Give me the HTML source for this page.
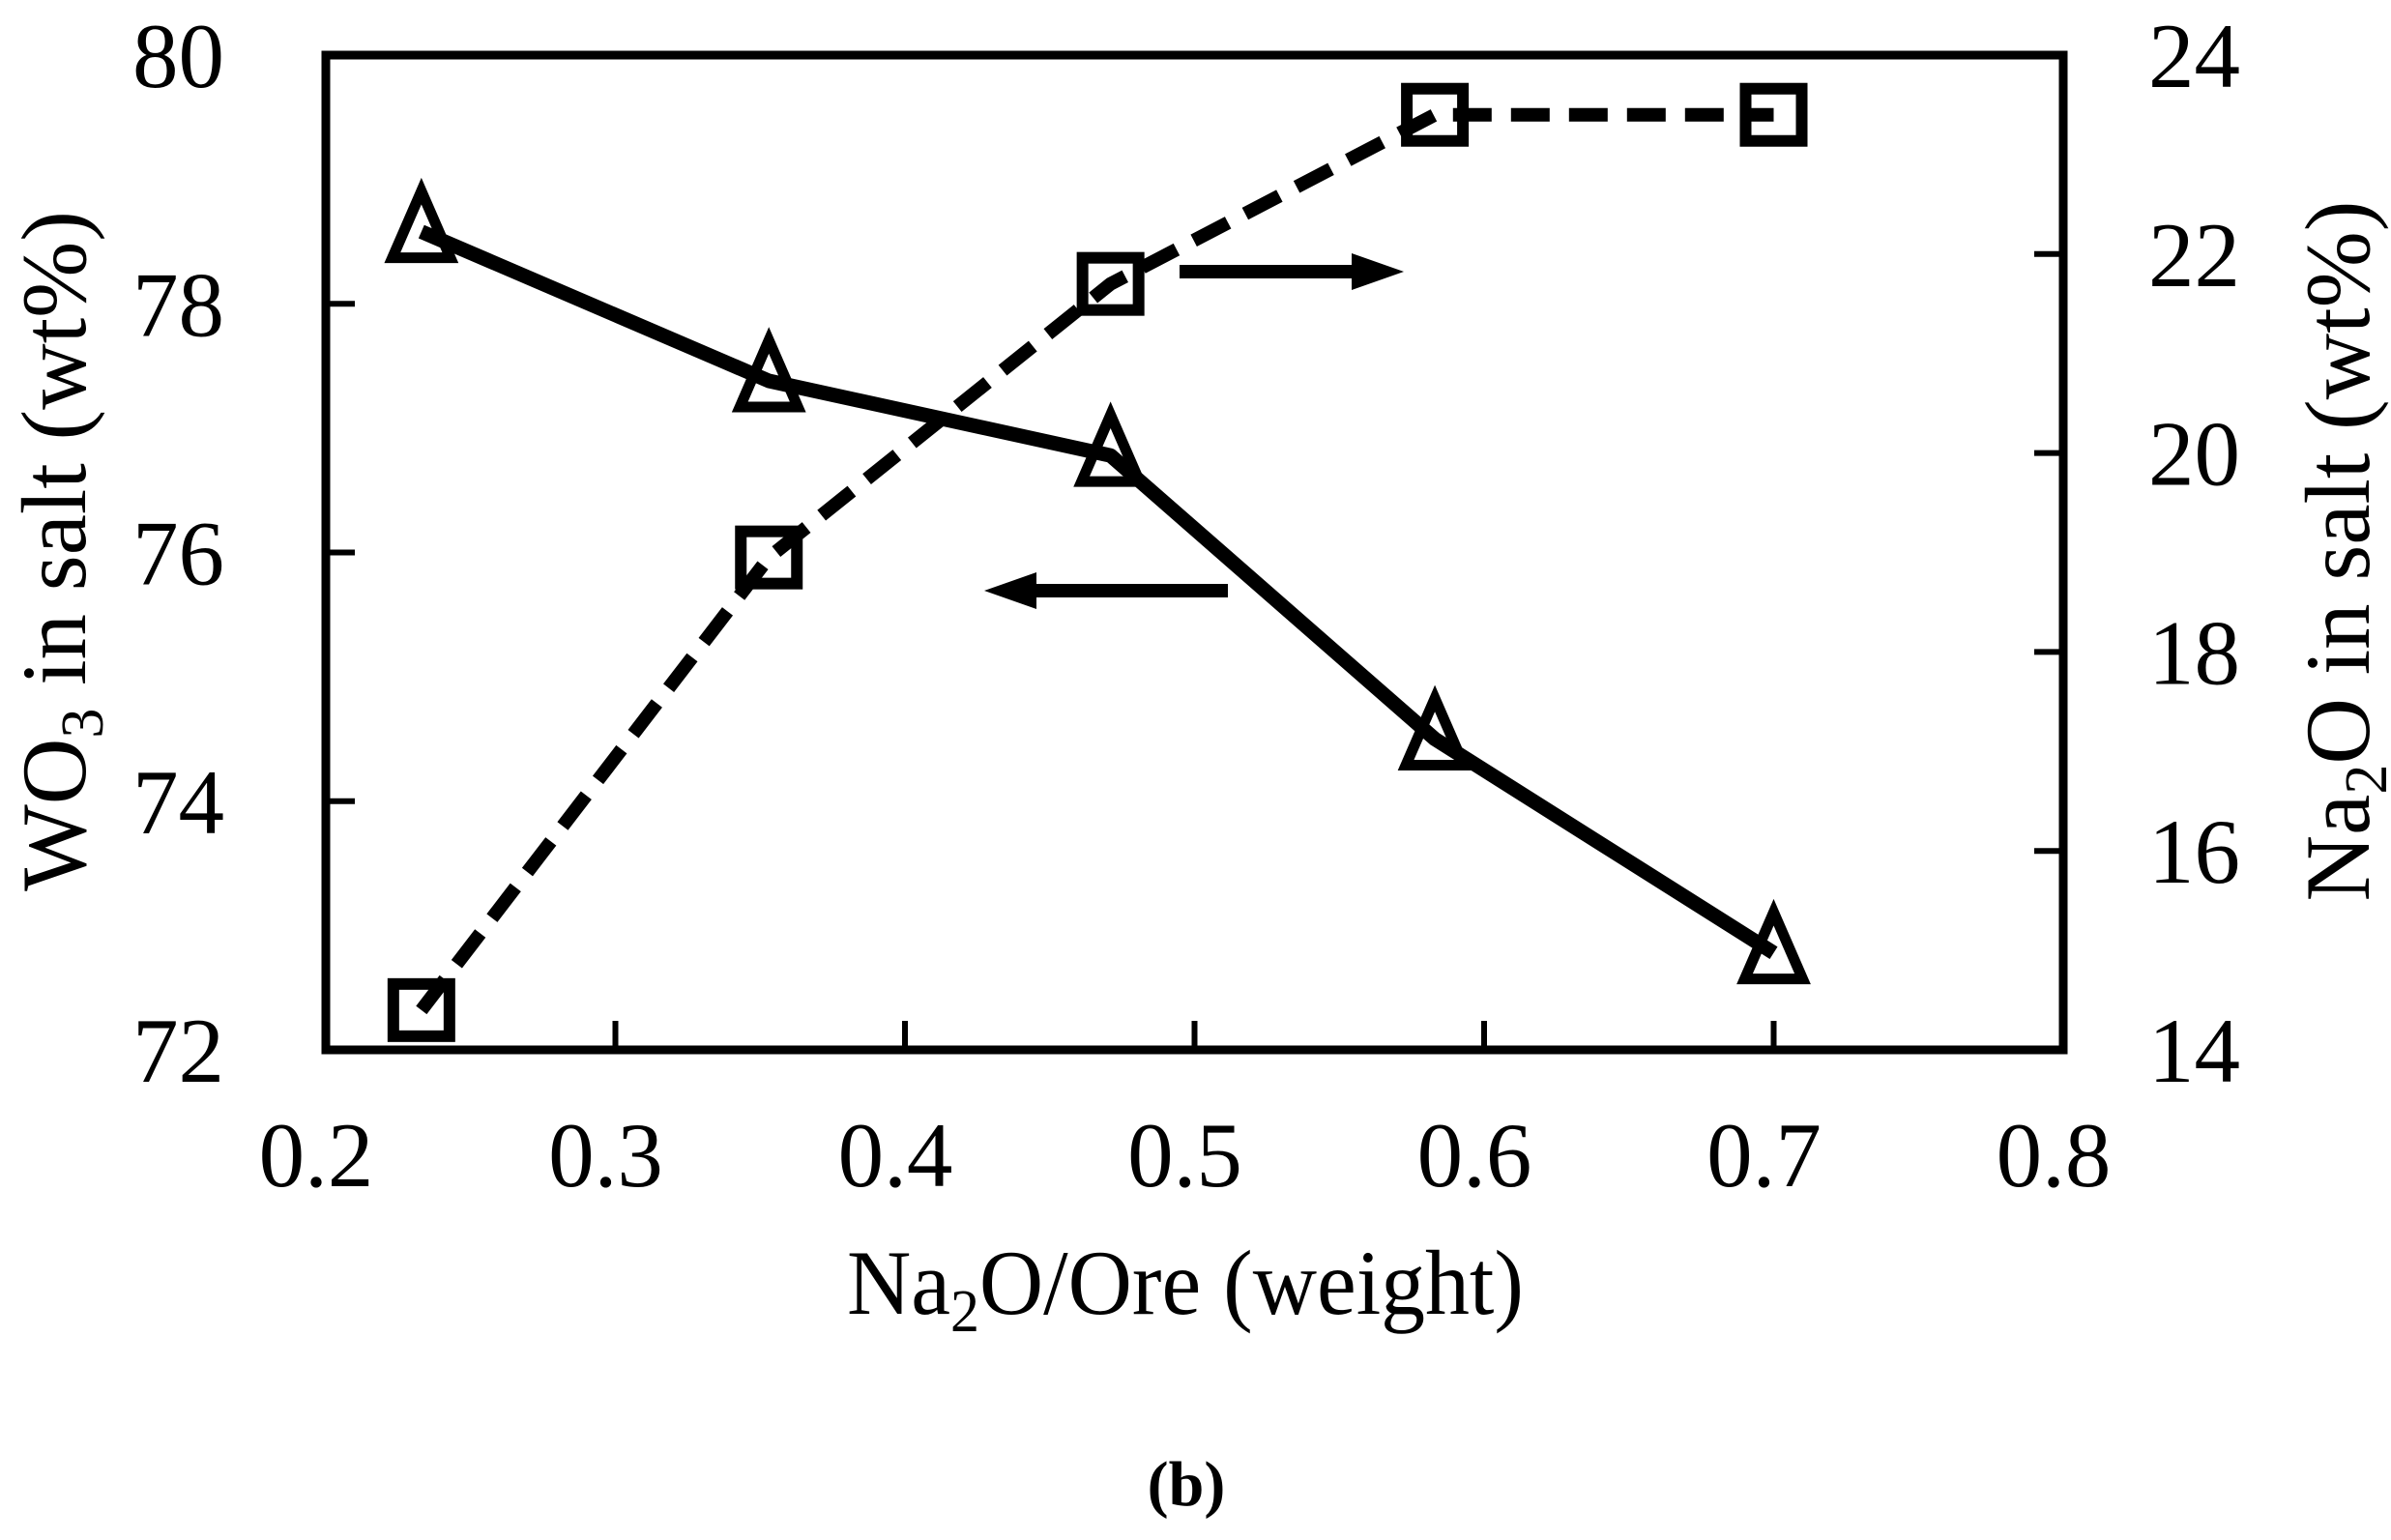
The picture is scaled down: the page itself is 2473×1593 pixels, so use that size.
<!DOCTYPE html>
<html><head><meta charset="utf-8"><style>
html,body{margin:0;padding:0;background:#fff;}
svg{display:block;font-family:"Liberation Serif",serif;}
</style></head><body>
<svg id="chart" width="2473" height="1593" viewBox="0 0 2473 1593" xmlns="http://www.w3.org/2000/svg">
<g id="plot"></g>
</svg>
<script>
const xValues = [0.233, 0.353, 0.471, 0.583, 0.7];
const wo3Values = [78.58, 77.38, 76.78, 74.5, 72.78];
const na2oValues = [14.4, 18.95, 21.7, 23.4, 23.4];
const xTicks = [0.2, 0.3, 0.4, 0.5, 0.6, 0.7, 0.8];
const xTickLabels = ["0.2","0.3","0.4","0.5","0.6","0.7","0.8"];
const leftTicks = [72, 74, 76, 78, 80];
const rightTicks = [14, 16, 18, 20, 22, 24];

const L=337, R=2134, T=57, B=1086;
const sx = v => L + (v-0.2)/(0.8-0.2)*(R-L);
const syL = v => B - (v-72)/(80-72)*(B-T);
const syR = v => B - (v-14)/(24-14)*(B-T);
const NS="http://www.w3.org/2000/svg";
const g=document.getElementById('plot');
function mk(tag, attrs, parent){const e=document.createElementNS(NS,tag);for(const k in attrs)e.setAttribute(k,attrs[k]);(parent||g).appendChild(e);return e;}

const box=mk('rect',{x:L,y:T,width:R-L,height:B-T,fill:'none',stroke:'#000','stroke-width':9});



xTicks.forEach((t,i)=>{
  const x=sx(t);
  const tk=mk('line',{x1:x,y1:B,x2:x,y2:B-30,stroke:'#000','stroke-width':6});
  
  
  const lb=mk('text',{x:x-10,y:1227,'font-size':95,'text-anchor':'middle'});
  lb.textContent=xTickLabels[i];
  
  
});
leftTicks.forEach(t=>{
  const y=syL(t);
  const tk=mk('line',{x1:L,y1:y,x2:L+30,y2:y,stroke:'#000','stroke-width':6});
  
  
  const lb=mk('text',{x:232,y:y+33,'font-size':95,'text-anchor':'end'});
  lb.textContent=String(t);
  
  
});
rightTicks.forEach(t=>{
  const y=syR(t);
  const tk=mk('line',{x1:R,y1:y,x2:R-30,y2:y,stroke:'#000','stroke-width':6});
  
  
  const lb=mk('text',{x:2222,y:y+33,'font-size':95,'text-anchor':'start'});
  lb.textContent=String(t);
  
  
});

const dpts=xValues.map((x,i)=>sx(x)+','+syR(na2oValues[i])).join(' ');
const dl=mk('polyline',{points:dpts,fill:'none',stroke:'#000','stroke-width':14,'stroke-dasharray':'40 20'});


const spts=xValues.map((x,i)=>sx(x)+','+syL(wo3Values[i])).join(' ');
const sl=mk('polyline',{points:spts,fill:'none',stroke:'#000','stroke-width':15,'stroke-linejoin':'round'});



xValues.forEach((x,i)=>{
  const cx=sx(x), cy=syR(na2oValues[i]);
  const sq=mk('rect',{x:cx-29,y:cy-27,width:58,height:54,fill:'none',stroke:'#000','stroke-width':12});
  
  
  const ty=syL(wo3Values[i]);
  const tr=mk('polygon',{points:`${cx},${ty-42} ${cx-30},${ty+27} ${cx+30},${ty+27}`,fill:'none',stroke:'#000','stroke-width':11,'stroke-linejoin':'miter'});
  
  
});

const a1=mk('g',{});


mk('line',{x1:1220,y1:281,x2:1405,y2:281,stroke:'#000','stroke-width':14},a1);
mk('polygon',{points:'1452,281 1398,262 1398,300',fill:'#000'},a1);
const a2=mk('g',{});


mk('line',{x1:1270,y1:611,x2:1065,y2:611,stroke:'#000','stroke-width':14},a2);
mk('polygon',{points:'1018,611 1072,592 1072,630',fill:'#000'},a2);
</script>
<svg style="position:absolute;left:0;top:0" width="2473" height="1593" xmlns="http://www.w3.org/2000/svg" font-family="Liberation Serif, serif">
<text x="876" y="1359" font-size="95" textLength="700" lengthAdjust="spacingAndGlyphs">Na<tspan font-size="62" dy="18">2</tspan><tspan dy="-18">O/Ore (weight)</tspan></text>
<text transform="translate(88,570) rotate(-90)" font-size="95" text-anchor="middle">WO<tspan font-size="62" dy="18">3</tspan><tspan dy="-18"> in salt (wt%)</tspan></text>
<text transform="translate(2450,570) rotate(-90)" font-size="95" text-anchor="middle">Na<tspan font-size="62" dy="18">2</tspan><tspan dy="-18">O in salt (wt%)</tspan></text>
<text x="1227" y="1557" font-size="66" font-weight="bold" text-anchor="middle">(b)</text>
</svg>
</body></html>
